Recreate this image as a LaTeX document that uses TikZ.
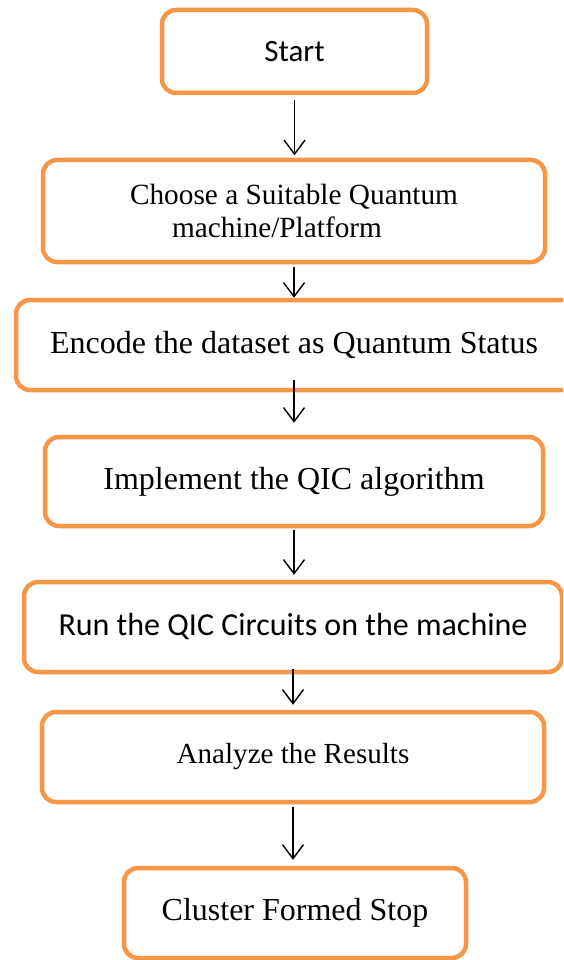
\documentclass[tikz,border=0pt]{standalone}
\usepackage{fontspec}
\setmainfont{Liberation Serif}
\newfontfamily\calibri{Carlito}
\usetikzlibrary{arrows.meta}
\definecolor{boxorange}{HTML}{F79646}

\begin{document}
\begin{tikzpicture}[x=1pt, y=-1pt, >={Straight Barb[length=14pt,width=21pt]},
    stepbox/.style={draw=boxorange, line width=4.5pt, rounded corners=14pt, inner sep=0pt, align=center},
    flow/.style={->, line width=1.4pt}]
    \useasboundingbox (0,0) rectangle (563,960);
    \clip (0,0) rectangle (563,960);

    % Boxes
    \node[stepbox, minimum width=265pt, minimum height=83pt, font=\calibri\fontsize{31}{37}\selectfont] (start) at (294.5,51.5) {Start};
    \node[stepbox, minimum width=502pt, minimum height=102pt, align=left, font=\fontsize{29.3}{33}\selectfont] (choose) at (294,211) {Choose a Suitable Quantum\\\hspace*{42pt}machine/Platform};
    \node[stepbox, minimum width=566pt, minimum height=90pt, font=\fontsize{32}{38}\selectfont] (encode) at (299,345) {\hspace*{-10pt}Encode the dataset as Quantum Status};
    \node[stepbox, minimum width=498pt, minimum height=89pt, font=\fontsize{32}{38}\selectfont] (implement) at (294,481.5) {Implement the QIC algorithm};
    \node[stepbox, minimum width=538pt, minimum height=90pt, font=\calibri\fontsize{32}{38}\selectfont] (run) at (293,627) {Run the QIC Circuits on the machine};
    \node[stepbox, minimum width=502pt, minimum height=90pt, font=\fontsize{29.1}{35}\selectfont] (analyze) at (293,757) {Analyze the Results};
    \node[stepbox, minimum width=342pt, minimum height=90pt, font=\fontsize{32}{38}\selectfont] (cluster) at (295,913) {Cluster Formed Stop};

    % Arrows
    \draw[flow, shorten <=5pt, shorten >=2.5pt] (start.south) -- (start.south |- choose.north);
    \draw[flow, shorten <=3pt] (choose.south) -- (choose.south |- encode.north);
    \draw[flow, shorten <=-12pt, shorten >=12pt] (implement.north |- encode.south) -- (implement.north);
    \draw[flow, shorten <=2pt, shorten >=5pt] (implement.south) -- (implement.south |- run.north);
    \draw[flow, shorten <=-5pt, shorten >=5pt] (run.south) -- (run.south |- analyze.north);
    \draw[flow, shorten <=3pt, shorten >=6pt] (analyze.south) -- (analyze.south |- cluster.north);
\end{tikzpicture}
\end{document}
